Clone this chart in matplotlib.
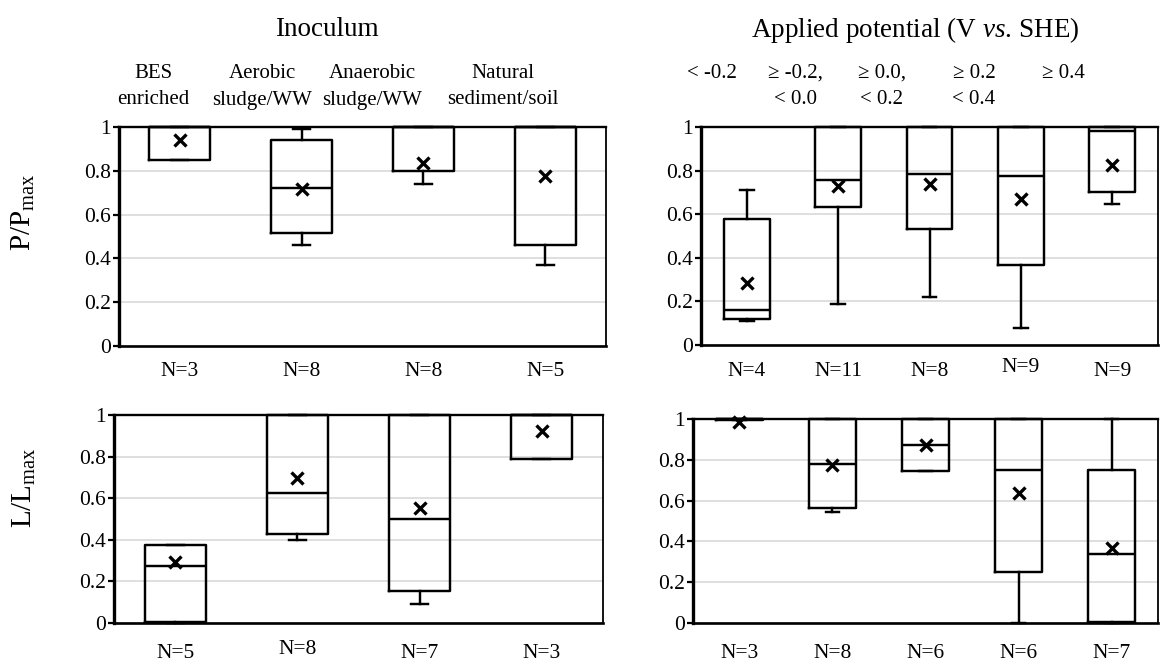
import matplotlib
matplotlib.use('Agg')
import matplotlib.pyplot as plt
from matplotlib.transforms import blended_transform_factory

plt.rcParams['font.family'] = ['Liberation Serif', 'DejaVu Serif']
plt.rcParams['mathtext.fontset'] = 'custom'
plt.rcParams['mathtext.rm'] = 'Liberation Serif'
plt.rcParams['mathtext.it'] = 'Liberation Serif:italic'

W, H = 1161, 664

# ---------------- data ----------------
inoc_labels = ['BES\nenriched', 'Aerobic\nsludge/WW', 'Anaerobic\nsludge/WW', 'Natural\nsediment/soil']
pot_labels = ['< -0.2', '≥ -0.2,\n< 0.0', '≥ 0.0,\n< 0.2', '≥ 0.2\n< 0.4', '≥ 0.4']

# P/Pmax by inoculum
p_inoc_n = [3, 8, 8, 5]
p_inoc_lo = [0.85, 0.46, 0.74, 0.37]
p_inoc_q1 = [0.85, 0.515, 0.80, 0.46]
p_inoc_med = [1.0, 0.72, 1.0, 1.0]
p_inoc_q3 = [1.0, 0.94, 1.0, 1.0]
p_inoc_hi = [1.0, 0.99, 1.0, 1.0]
p_inoc_mean = [0.94, 0.715, 0.835, 0.775]

# P/Pmax by applied potential
p_pot_n = [4, 11, 8, 9, 9]
p_pot_lo = [0.11, 0.19, 0.22, 0.08, 0.645]
p_pot_q1 = [0.12, 0.635, 0.53, 0.365, 0.70]
p_pot_med = [0.16, 0.755, 0.785, 0.775, 0.982]
p_pot_q3 = [0.58, 1.0, 1.0, 1.0, 1.0]
p_pot_hi = [0.71, 1.0, 1.0, 1.0, 1.0]
p_pot_mean = [0.285, 0.728, 0.737, 0.672, 0.827]

# L/Lmax by inoculum
l_inoc_n = [5, 8, 7, 3]
l_inoc_lo = [0.0, 0.40, 0.09, 0.79]
l_inoc_q1 = [0.005, 0.427, 0.154, 0.79]
l_inoc_med = [0.276, 0.625, 0.50, 1.0]
l_inoc_q3 = [0.376, 1.0, 1.0, 1.0]
l_inoc_hi = [0.376, 1.0, 1.0, 1.0]
l_inoc_mean = [0.292, 0.697, 0.555, 0.925]

# L/Lmax by applied potential
l_pot_n = [3, 8, 6, 6, 7]
l_pot_lo = [0.995, 0.545, 0.746, 0.0, 0.0]
l_pot_q1 = [0.995, 0.562, 0.746, 0.250, 0.005]
l_pot_med = [1.0, 0.780, 0.872, 0.748, 0.336]
l_pot_q3 = [1.0, 1.0, 1.0, 1.0, 0.748]
l_pot_hi = [1.0, 1.0, 1.0, 1.0, 1.0]
l_pot_mean = [0.985, 0.776, 0.872, 0.636, 0.370]

yticks = [0, 0.2, 0.4, 0.6, 0.8, 1.0]
ytick_labels = ['0', '0.2', '0.4', '0.6', '0.8', '1']


def px_axes(x0, y0, x1, y1):
    return [x0 / W, 1 - y1 / H, (x1 - x0) / W, (y1 - y0) / H]


fig = plt.figure(figsize=(W / 100, H / 100), dpi=100)


def panel(rect, n, lo, q1, med, q3, hi, mean, capw, ndy):
    ax = fig.add_axes(px_axes(*rect))
    stats = []
    for i in range(len(n)):
        stats.append(dict(med=med[i], q1=q1[i], q3=q3[i], whislo=lo[i],
                          whishi=hi[i], mean=mean[i], fliers=[]))
    lw = 1.75
    art = ax.bxp(stats, positions=list(range(len(n))), widths=0.5,
                 showmeans=True, showfliers=False, capwidths=capw,
                 boxprops=dict(color='black', lw=lw),
                 whiskerprops=dict(color='black', lw=lw),
                 capprops=dict(color='black', lw=lw),
                 medianprops=dict(color='black', lw=lw),
                 meanprops=dict(marker='x', markeredgecolor='black',
                                markerfacecolor='black', markersize=8.5,
                                markeredgewidth=2.4))
    for k, v in art.items():
        for a in v:
            a.set_clip_on(False)
    ax.set_xlim(-0.5, len(n) - 0.5)
    ax.set_ylim(0, 1)
    ax.set_yticks(yticks)
    ax.set_yticklabels(ytick_labels)
    ax.set_xticks([])
    ax.yaxis.grid(True, color='#dcdcdc', lw=1.3)
    ax.set_axisbelow(True)
    ax.tick_params(axis='y', direction='out', length=4, width=1.6,
                   labelsize=15.5, pad=2)
    ax.spines['left'].set_linewidth(2.4)
    ax.spines['bottom'].set_linewidth(1.9)
    ax.spines['top'].set_linewidth(1.7)
    ax.spines['right'].set_linewidth(1.3)
    ax_h = rect[3] - rect[1]
    tr = blended_transform_factory(ax.transData, ax.transAxes)
    for i, nn in enumerate(n):
        ax.text(i, -ndy[i] / ax_h, f'N={nn}', transform=tr, ha='center',
                va='center', fontsize=15.5)
    return ax


panel((119, 127, 606, 346), p_inoc_n, p_inoc_lo, p_inoc_q1, p_inoc_med,
      p_inoc_q3, p_inoc_hi, p_inoc_mean, 0.14, [26, 26, 26, 26])
panel((701, 127, 1158, 345), p_pot_n, p_pot_lo, p_pot_q1, p_pot_med,
      p_pot_q3, p_pot_hi, p_pot_mean, 0.15, [27, 27, 27, 23, 27])
panel((114, 415, 603, 623), l_inoc_n, l_inoc_lo, l_inoc_q1, l_inoc_med,
      l_inoc_q3, l_inoc_hi, l_inoc_mean, 0.14, [31, 26, 31, 31])
panel((693, 419, 1158, 623), l_pot_n, l_pot_lo, l_pot_q1, l_pot_med,
      l_pot_q3, l_pot_hi, l_pot_mean, 0.15, [31, 31, 31, 31, 31])


def ftext(x, y, s, **kw):
    fig.text(x / W, 1 - y / H, s, ha='center', va='center', **kw)


ftext(327, 30, 'Inoculum', fontsize=19.5)
ftext(915, 30, 'Applied potential (V $\\mathit{vs}$. SHE)', fontsize=19.5)

inoc_lab_x = [153, 262, 372, 503]
for x, lab in zip(inoc_lab_x, inoc_labels):
    for j, line in enumerate(lab.split('\n')):
        ftext(x, 73 + 27 * j, line, fontsize=15)

pot_lab_x = [712, 796, 882, 974, 1063]
for x, lab in zip(pot_lab_x, pot_labels):
    for j, line in enumerate(lab.split('\n')):
        ftext(x, 73 + 27 * j, line, fontsize=15)

ftext(23, 212, 'P/P$_{\\mathrm{max}}$', fontsize=21, rotation=90)
ftext(24, 488, 'L/L$_{\\mathrm{max}}$', fontsize=21, rotation=90)

fig.savefig('out.png', dpi=100)
